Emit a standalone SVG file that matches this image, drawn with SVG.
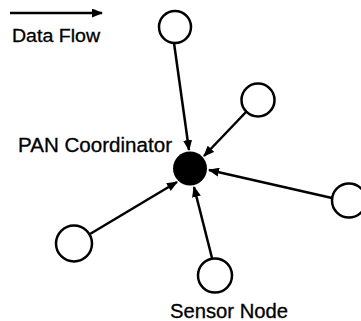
<svg xmlns="http://www.w3.org/2000/svg" width="361" height="321" viewBox="0 0 361 321">
<defs>
<marker id="ah" markerWidth="11" markerHeight="9" refX="10" refY="4.5" orient="auto" markerUnits="userSpaceOnUse">
<path d="M0,0 L11,4.5 L0,9 z" fill="#000"/>
</marker>
<style>
.edge{stroke:#000;stroke-width:2.5;fill:none;marker-end:url(#ah)}
.node{fill:#fff;stroke:#000;stroke-width:2.5}
.lbl{font-family:"Liberation Sans",Arial,sans-serif;fill:#000;stroke:#000;stroke-width:0.3}
</style>
</defs>
<rect width="361" height="321" fill="#fff"/>
<g id="legend">
<line class="edge" x1="10" y1="13" x2="102" y2="13"/>
<text class="lbl" x="12" y="42" font-size="17.5" textLength="88" lengthAdjust="spacingAndGlyphs">Data Flow</text>
</g>
<g id="connectors">
<line class="edge" x1="174" y1="43" x2="189" y2="150"/>
<line class="edge" x1="246" y1="112" x2="204" y2="156"/>
<line class="edge" x1="332" y1="198" x2="209" y2="170"/>
<line class="edge" x1="212" y1="258" x2="194" y2="187"/>
<line class="edge" x1="90" y1="234" x2="177" y2="182"/>
</g>
<g id="coordinator">
<circle cx="190" cy="168.5" r="17" fill="#000"/>
<text class="lbl" x="18" y="152" font-size="19.5" textLength="154" lengthAdjust="spacingAndGlyphs">PAN Coordinator</text>
</g>
<g id="node-top"><circle class="node" cx="175" cy="27" r="16"/></g>
<g id="node-upper-right"><circle class="node" cx="258" cy="100" r="16.5"/></g>
<g id="node-right"><circle class="node" cx="349" cy="200.5" r="17"/></g>
<g id="node-lower-left"><circle class="node" cx="74" cy="243.5" r="18"/></g>
<g id="node-bottom">
<circle class="node" cx="215" cy="275.5" r="17"/>
<text class="lbl" x="170" y="318" font-size="19.5" textLength="118" lengthAdjust="spacingAndGlyphs">Sensor Node</text>
</g>
</svg>
